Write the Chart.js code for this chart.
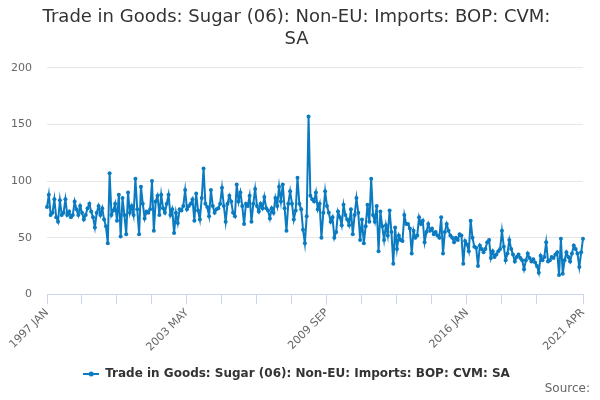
<!DOCTYPE html>
<html>
<head>
<meta charset="utf-8">
<title>Trade in Goods: Sugar (06)</title>
<script src="https://cdn.jsdelivr.net/npm/chart.js@4.4.0/dist/chart.umd.min.js"></script>
<style>
    html, body { margin: 0; padding: 0; background: #ffffff; }
    #wrap { width: 600px; height: 400px; }
</style>
</head>
<body>
<div id="wrap"><canvas id="sugarChart" width="600" height="400"></canvas></div>
<script>
// Series data
const seriesName = 'Trade in Goods: Sugar (06): Non-EU: Imports: BOP: CVM: SA';
const monthNames = ['JAN', 'FEB', 'MAR', 'APR', 'MAY', 'JUN', 'JUL', 'AUG', 'SEP', 'OCT', 'NOV', 'DEC'];
const firstYear = 1997;
const lastYear = 2021;
const lastMonth = 4; // APR

// monthly values, one row per year (1997 JAN .. 2021 APR)
const importValues = [
    77, 88, 70, 72, 84, 68, 64, 83, 70, 72, 84, 70,   // 1997
    73, 68, 70, 82, 75, 70, 78, 72, 66, 70, 76, 80,   // 1998
    73, 68, 59, 72, 78, 70, 76, 66, 60, 45, 107, 70,  // 1999
    74, 80, 65, 88, 51, 85, 70, 53, 90, 72, 78, 70,   // 2000
    102, 75, 53, 95, 80, 67, 73, 72, 75, 100, 56, 82, // 2001
    87, 70, 88, 76, 72, 80, 88, 70, 75, 54, 72, 63,   // 2002
    75, 74, 78, 92, 75, 78, 80, 84, 65, 89, 74, 66,   // 2003
    85, 111, 80, 77, 69, 92, 78, 72, 75, 76, 80, 94,  // 2004
    78, 64, 80, 87, 82, 72, 69, 97, 82, 90, 78, 62,   // 2005
    80, 78, 87, 64, 80, 93, 78, 73, 80, 76, 86, 76,   // 2006
    74, 67, 76, 72, 85, 78, 95, 82, 97, 76, 56, 80,   // 2007
    91, 80, 66, 74, 103, 80, 75, 57, 45, 69, 157, 87, // 2008
    84, 82, 90, 75, 80, 50, 72, 91, 78, 72, 64, 68,   // 2009
    50, 55, 73, 68, 61, 79, 70, 66, 61, 75, 53, 70,   // 2010
    85, 72, 48, 66, 45, 60, 79, 64, 102, 70, 64, 78,  // 2011
    38, 73, 60, 48, 61, 52, 74, 55, 27, 59, 40, 52,   // 2012
    48, 47, 70, 62, 62, 58, 36, 56, 50, 52, 68, 62,   // 2013
    65, 46, 55, 62, 56, 58, 53, 55, 52, 50, 68, 36,   // 2014
    55, 62, 56, 52, 50, 46, 50, 48, 53, 52, 27, 47,   // 2015
    44, 38, 65, 50, 42, 41, 25, 43, 40, 37, 40, 46,   // 2016
    48, 32, 38, 33, 35, 38, 40, 56, 42, 30, 36, 48,   // 2017
    40, 35, 29, 33, 35, 32, 30, 22, 30, 36, 32, 29,   // 2018
    31, 28, 25, 19, 34, 30, 33, 46, 29, 30, 33, 32,   // 2019
    35, 37, 17, 49, 18, 30, 37, 33, 29, 36, 43, 40,   // 2020
    36, 24, 37, 49                                    // 2021
];

const yTicks = [0, 50, 100, 150, 200];
const labelEvery = 76;  // months between labelled ticks
const tickEvery = 19;   // months between tick marks
const sourceText = 'Source:';

// category labels like "1997 JAN"
const monthLabels = [];
for (let y = firstYear; y <= lastYear; y++) {
    for (let m = 0; m < 12; m++) {
        if (y === lastYear && m >= lastMonth) break;
        monthLabels.push(y + ' ' + monthNames[m]);
    }
}
const lastIndex = monthLabels.length - 1;

const lineColor = '#0b7bc1';
const axisColor = '#ccd6eb';

function isTick(i) {
    return (i % tickEvery === 0 && i <= lastIndex - tickEvery) || i === lastIndex;
}
function isLabel(i) {
    return i % labelEvery === 0 || i === lastIndex;
}

// legend marker: a short line with a dot in the middle
function legendMarker() {
    const c = document.createElement('canvas');
    c.width = 16;
    c.height = 8;
    const g = c.getContext('2d');
    g.strokeStyle = lineColor;
    g.lineWidth = 2;
    g.beginPath();
    g.moveTo(0, 4);
    g.lineTo(16, 4);
    g.stroke();
    g.fillStyle = lineColor;
    g.beginPath();
    g.arc(8, 4, 2.5, 0, Math.PI * 2);
    g.fill();
    return c;
}

// "Source:" credit in the bottom right corner
const sourceCredit = {
    id: 'sourceCredit',
    afterDraw(chart) {
        const c = chart.ctx;
        c.save();
        c.font = '12px "DejaVu Sans", sans-serif';
        c.fillStyle = '#666666';
        c.textAlign = 'right';
        c.textBaseline = 'middle';
        c.fillText(sourceText, chart.width - 10, 389);
        c.restore();
    }
};

Chart.defaults.font.family = '"DejaVu Sans", sans-serif';

const ctx = document.getElementById('sugarChart').getContext('2d');
const sugarChart = new Chart(ctx, {
    type: 'line',
    data: {
        labels: monthLabels,
        datasets: [{
            label: seriesName,
            data: importValues,
            borderColor: lineColor,
            backgroundColor: lineColor,
            borderWidth: 2,
            pointRadius: 2,
            pointBorderWidth: 0,
            pointBackgroundColor: lineColor,
            tension: 0
        }]
    },
    plugins: [sourceCredit],
    options: {
        responsive: false,
        animation: false,
        devicePixelRatio: 1,
        layout: {
            padding: { left: 10, right: 17, top: 0, bottom: 10 }
        },
        plugins: {
            title: {
                display: true,
                text: ['Trade in Goods: Sugar (06): Non-EU: Imports: BOP: CVM:', 'SA'],
                color: '#333333',
                font: { size: 18, weight: 'normal', lineHeight: 1.22 },
                padding: { top: 6, bottom: 18 }
            },
            legend: {
                position: 'bottom',
                labels: {
                    color: '#333333',
                    font: { size: 12, weight: 'bold' },
                    usePointStyle: true,
                    pointStyle: legendMarker(),
                    pointStyleWidth: 16,
                    boxHeight: 8,
                    padding: 4
                }
            },
            tooltip: { enabled: false }
        },
        scales: {
            x: {
                offset: false,
                border: { display: true, color: axisColor, width: 1 },
                grid: {
                    drawOnChartArea: false,
                    drawTicks: true,
                    tickLength: 10,
                    color: c => isTick(c.index) ? axisColor : 'rgba(0,0,0,0)',
                    tickColor: c => isTick(c.index) ? axisColor : 'rgba(0,0,0,0)'
                },
                ticks: {
                    autoSkip: false,
                    minRotation: 45,
                    maxRotation: 45,
                    color: '#666666',
                    font: { size: 11 },
                    padding: 2,
                    callback: function (val, i) {
                        return isLabel(i) ? monthLabels[i] : '';
                    }
                },
                // rotated labels may hang past the plot edges, and leave a gap above the legend
                afterFit: axis => {
                    axis.paddingLeft = 0;
                    axis.paddingRight = 0;
                    axis.height += 8;
                }
            },
            y: {
                min: yTicks[0],
                max: yTicks[yTicks.length - 1],
                border: { display: false },
                grid: { color: '#e6e6e6', drawTicks: false },
                afterBuildTicks: axis => { axis.ticks = yTicks.map(v => ({ value: v })); },
                afterFit: axis => { axis.width = 37; },
                ticks: {
                    color: '#666666',
                    font: { size: 11 },
                    padding: 15
                }
            }
        }
    }
});
</script>
</body>
</html>
